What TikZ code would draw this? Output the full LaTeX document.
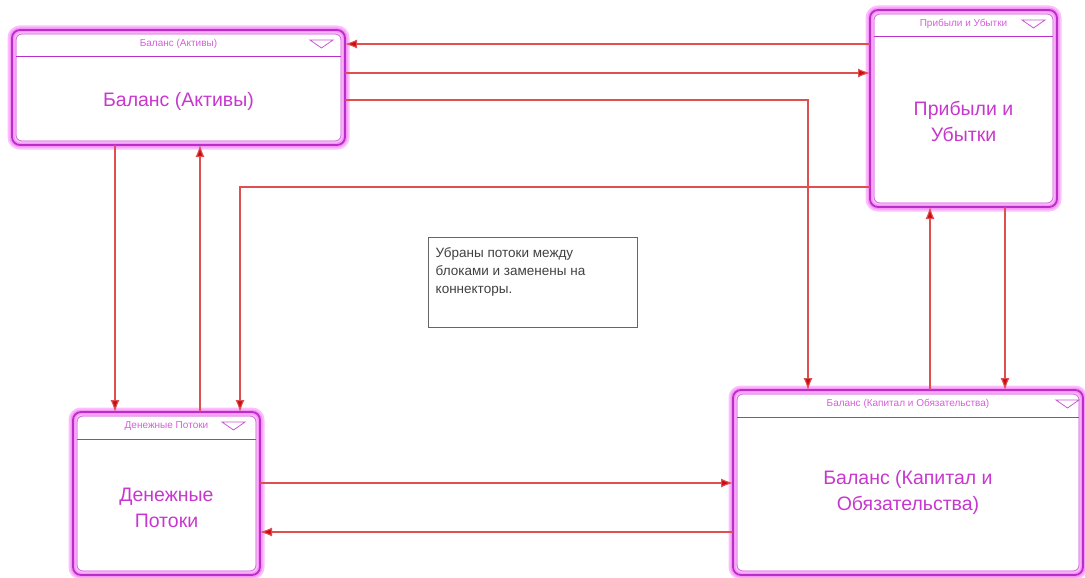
\documentclass[tikz,border=0pt]{standalone}
\usepackage{fontspec}
\setmainfont{Liberation Sans}
\usetikzlibrary{calc,arrows.meta,positioning}
\definecolor{blockline}{RGB}{185,45,200}
\definecolor{blockglow}{RGB}{248,150,248}
\definecolor{blocktext}{RGB}{200,55,205}
\definecolor{flowline}{RGB}{222,80,80}
\definecolor{flowtip}{RGB}{205,10,20}
\tikzset{>={Latex[length=12pt,width=9pt]}}
\tikzset{block/.style={draw=blockline, line width=1.8pt, rounded corners=8pt, inner sep=0pt, outer sep=0pt,
    preaction={draw=blockglow!60, line width=9pt}, preaction={draw=blockglow, line width=5pt}}}
\tikzset{innerline/.style={draw=blockline!70, line width=0.8pt, rounded corners=6pt}}
\tikzset{hdrtext/.style={text=blocktext!80, font=\fontsize{10}{12}\selectfont}}
\tikzset{maintext/.style={text=blocktext, align=center, font=\fontsize{19.5}{26}\selectfont}}
\tikzset{flow/.style={draw=flowline, line width=1.1pt, -{Latex[length=12pt,width=9pt,fill=flowtip]}}}

\begin{document}
\begin{tikzpicture}[x=1pt,y=-1pt]
      \useasboundingbox (0,0) rectangle (1085,578);
      % blocks
      \node[block, minimum width=333pt, minimum height=115pt] (A) at (178.5,87.5) {};
      \node[block, minimum width=187pt, minimum height=197pt] (P) at (963.5,108.5) {};
      \node[block, minimum width=187pt, minimum height=163pt] (D) at (166.5,493.5) {};
      \node[block, minimum width=350pt, minimum height=185pt] (K) at (908,482.5) {};
      \foreach \b/\t in {A/35,P/35,D/38,K/27}{
        \draw[innerline] ([shift={(4pt,-4pt)}]\b.north west) rectangle ([shift={(-4pt,4pt)}]\b.south east);
        \draw[blockline, line width=1pt] ([shift={(4pt,-27pt)}]\b.north west) -- ([shift={(-4pt,-27pt)}]\b.north east);
        \draw[blockline!80, line width=0.8pt] ([shift={(-\t pt,-10pt)}]\b.north east) -- ++(23,0) -- ++(-11.5,8) -- cycle;
      }
      \node[hdrtext] (Ah) at ($(A.north)+(0,14)$) {Баланс (Активы)};
      \node[hdrtext] (Ph) at ($(P.north)+(0,14)$) {Прибыли и Убытки};
      \node[hdrtext] (Dh) at ($(D.north)+(0,14)$) {Денежные Потоки};
      \node[hdrtext] (Kh) at ($(K.north)+(0,14)$) {Баланс (Капитал и Обязательства)};
      \node[maintext] (At) at ($(A.center)+(0,14)$) {Баланс (Активы)};
      \node[maintext] (Pt) at ($(P.center)+(0,13)$) {Прибыли и\\Убытки};
      \node[maintext] (Dt) at ($(D.center)+(0,14)$) {Денежные\\Потоки};
      \node[maintext] (Kt) at ($(K.center)+(0,10)$) {Баланс (Капитал и\\Обязательства)};
      % note
      \node[draw=black!60, line width=1pt, minimum width=209pt, minimum height=90pt, inner sep=0pt] (N) at (532.5,282) {};
      \node[anchor=north west, align=left, text=black!75, font=\fontsize{13.5}{18}\selectfont, inner sep=0pt]
        (Nt) at ([shift={(8pt,-11pt)}]N.north west) {Убраны потоки между\\блоками и заменены на\\коннекторы.};
      % connectors
      \draw[flow] ([yshift=-34pt]P.north west) -- ([yshift=-14pt]A.north east);
      \draw[flow] ([yshift=-43pt]A.north east) -- ([yshift=-63pt]P.north west);
      \draw[flow] ([yshift=-70pt]A.north east) -| ([xshift=75pt]K.north west);
      \draw[flow] ([xshift=103pt]A.south west) -- ([xshift=42pt]D.north west);
      \draw[flow] ([xshift=127pt]D.north west) -- ([xshift=188pt]A.south west);
      \draw[flow] ([yshift=-177pt]P.north west) -| ([xshift=167pt]D.north west);
      \draw[flow] ([xshift=197pt]K.north west) -- ([xshift=60pt]P.south west);
      \draw[flow] ([xshift=135pt]P.south west) -- ([xshift=272pt]K.north west);
      \draw[flow] ([yshift=-71pt]D.north east) -- ([yshift=-93pt]K.north west);
      \draw[flow] ([yshift=-142pt]K.north west) -- ([yshift=-120pt]D.north east);
\end{tikzpicture}
\end{document}
